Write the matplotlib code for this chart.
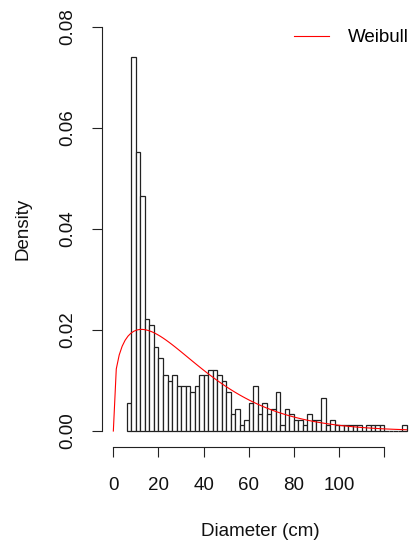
import numpy as np
import matplotlib
matplotlib.use("Agg")
import matplotlib.pyplot as plt

plt.rcParams['font.family'] = ['Liberation Sans', 'DejaVu Sans']

# Histogram data: bins of width 2 cm starting at 6 cm, counts per bin
bin_start = 6
bin_width = 2
counts = [5, 67, 50, 42, 20, 19, 15, 13, 10, 9,
          10, 8, 8, 8, 7, 8, 10, 10, 11, 11,
          10, 9, 7, 3, 4, 1, 2, 5, 8, 3,
          5, 3, 4, 7, 1, 4, 3, 2, 2, 1,
          3, 2, 2, 6, 1, 2, 1, 1, 1, 1,
          1, 1, 0, 1, 1, 1, 1, 0, 0, 0,
          0, 1]

# Fitted Weibull parameters
weib_shape = 1.32
weib_scale = 36.5

x_ticks = [0, 20, 40, 60, 80, 100, 120]
x_tick_labels = ['0', '20', '40', '60', '80', '100', '']
y_ticks = [0.00, 0.02, 0.04, 0.06, 0.08]
y_tick_labels = ['0.00', '0.02', '0.04', '0.06', '0.08']

W, H = 413, 549
fig = plt.figure(figsize=(W / 100, H / 100), dpi=100)
left, right, top, bottom = 101.6, 418.5, 10.8, 447.2
ax = fig.add_axes([left / W, 1 - bottom / H, (right - left) / W, (bottom - top) / H])

counts_arr = np.array(counts, dtype=float)
n = counts_arr.sum()
density = counts_arr / (n * bin_width)
edges = bin_start + bin_width * np.arange(len(counts))
ax.bar(edges, density, width=bin_width, align='edge', facecolor='white',
       edgecolor='#222222', linewidth=0.9, zorder=2)

xs = np.linspace(0, 130, 101)
k, lam = weib_shape, weib_scale
ys = (k / lam) * (xs / lam) ** (k - 1) * np.exp(-(xs / lam) ** k)
ax.plot(xs, ys, color='#FF0000', linewidth=0.8, zorder=3, label='Weibull')

ax.set_xlim(-5.2, 135.2)
ax.set_ylim(-0.0032, 0.0832)

for s in ['top', 'right']:
    ax.spines[s].set_visible(False)
ax.spines['left'].set_bounds(0, 0.08)
ax.spines['bottom'].set_bounds(0, 120)
for s in ['left', 'bottom']:
    ax.spines[s].set_linewidth(0.8)
    ax.spines[s].set_color('#222222')

ax.set_xticks(x_ticks)
ax.set_xticklabels(x_tick_labels)
ax.set_yticks(y_ticks)
ax.set_yticklabels(y_tick_labels, rotation=90, va='center')
ax.tick_params(axis='both', direction='out', length=7.2, width=0.8,
               color='#222222', labelsize=13.5, labelcolor='#111111')
ax.tick_params(axis='x', pad=14)
ax.tick_params(axis='y', pad=11)

ax.set_xlabel('Diameter (cm)', fontsize=13.5, color='#111111', va='center')
ax.xaxis.set_label_coords(0.5, -(531 - bottom) / (bottom - top))
ax.set_ylabel('Density', fontsize=13.5, color='#111111', va='center')
ax.yaxis.set_label_coords(-(left - 23) / (right - left), 0.5)

leg = ax.legend(loc='upper right', bbox_to_anchor=(409 / W, 1 - 29 / H),
                bbox_transform=fig.transFigure, frameon=False, fontsize=13.5,
                handlelength=1.9, handletextpad=1.0, borderaxespad=0, borderpad=0)

fig.savefig('out.png', dpi=100)
